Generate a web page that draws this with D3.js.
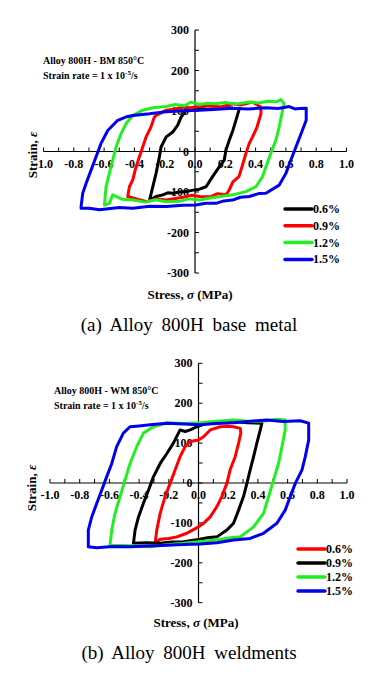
<!DOCTYPE html>
<html><head><meta charset="utf-8">
<script src="https://cdn.jsdelivr.net/npm/d3@7"></script>
<style>
html,body{margin:0;padding:0;background:#fff;}
svg{display:block;}
text{font-family:"Liberation Serif","Times New Roman",serif;}
</style></head>
<body>
<svg id="c" width="385" height="674"></svg>
<script>
// ---------- data ----------
const xTicks = [-1.0,-0.8,-0.6,-0.4,-0.2,0.0,0.2,0.4,0.6,0.8,1.0];
const yTicks = [-300,-200,-100,0,100,200,300];
const legendA = ["0.6%","0.9%","1.2%","1.5%"];
const colorsA = ["#000000","#ff0000","#22ee22","#0000ee"];
const legendB = ["0.6%","0.9%","1.2%","1.5%"];
const colorsB = ["#ff0000","#000000","#22ee22","#0000ee"];

// (a) base metal loops [strain-axis x, stress-axis y]
const bm06 = [[-0.30,-120],[-0.28,-89],[-0.257,-54],[-0.235,-13],[-0.224,11],[-0.19,36],[-0.147,48],[-0.114,65],[-0.092,85],[-0.075,93],[-0.06,102],[-0.02,105],[0.03,108],[0.08,104],[0.14,106],[0.2,109],[0.25,107],[0.29,106],[0.29,102],[0.27,77],[0.25,52],[0.226,28],[0.204,3],[0.193,-21],[0.16,-38],[0.116,-62],[0.073,-87],[0.029,-93],[-0.02,-96],[-0.06,-99],[-0.1,-100],[-0.147,-103],[-0.18,-102],[-0.213,-107],[-0.257,-111],[-0.30,-120]];
const bm09 = [[-0.444,-111],[-0.433,-87],[-0.411,-70],[-0.389,-38],[-0.367,-13],[-0.345,11],[-0.323,36],[-0.29,61],[-0.268,85],[-0.257,89],[-0.19,102],[-0.13,105],[-0.08,110],[-0.03,108],[0.03,111],[0.1,113],[0.17,110],[0.25,118],[0.3,115],[0.38,122],[0.435,110],[0.435,93],[0.41,61],[0.38,36],[0.358,20],[0.336,-5],[0.31,-38],[0.29,-62],[0.25,-75],[0.226,-95],[0.204,-107],[0.15,-104],[0.1,-112],[0.03,-111],[-0.02,-108],[-0.08,-113],[-0.13,-116],[-0.19,-120],[-0.25,-117],[-0.32,-124],[-0.38,-118],[-0.444,-111]];
const bm12 = [[-0.598,-132],[-0.587,-87],[-0.565,-54],[-0.543,-21],[-0.521,11],[-0.488,44],[-0.455,69],[-0.411,89],[-0.345,102],[-0.279,108],[-0.19,111],[-0.13,116],[-0.07,113],[-0.026,122],[0.03,116],[0.08,119],[0.138,118],[0.2,121],[0.27,117],[0.358,122],[0.42,120],[0.48,124],[0.54,123],[0.567,128],[0.589,118],[0.578,102],[0.556,61],[0.534,28],[0.50,-5],[0.468,-38],[0.446,-62],[0.402,-87],[0.336,-99],[0.248,-107],[0.19,-110],[0.138,-113],[0.08,-116],[0.029,-120],[-0.04,-117],[-0.1,-123],[-0.19,-124],[-0.26,-119],[-0.33,-125],[-0.41,-120],[-0.48,-118],[-0.543,-107],[-0.565,-128],[-0.598,-132]];
const bm15 = [[-0.752,-136],[-0.741,-103],[-0.719,-79],[-0.686,-46],[-0.653,-13],[-0.62,20],[-0.576,52],[-0.51,77],[-0.45,86],[-0.411,89],[-0.30,93],[-0.19,98],[-0.1,100],[0.03,102],[0.12,104],[0.248,107],[0.35,105],[0.468,108],[0.55,106],[0.622,111],[0.66,105],[0.688,106],[0.734,107],[0.734,77],[0.70,44],[0.666,11],[0.633,-21],[0.60,-54],[0.556,-83],[0.468,-103],[0.42,-104],[0.358,-111],[0.3,-113],[0.248,-120],[0.19,-122],[0.138,-128],[0.07,-128],[0.007,-132],[-0.08,-133],[-0.19,-136],[-0.3,-135],[-0.41,-140],[-0.5,-138],[-0.63,-144],[-0.7,-140],[-0.752,-140],[-0.752,-136]];

// (b) weldment loops
const wm06 = [[-0.292,-151],[-0.281,-118],[-0.258,-76],[-0.225,-34],[-0.191,-1],[-0.157,33],[-0.124,66],[-0.09,91],[-0.056,104],[0,108],[0.034,116],[0.079,133],[0.146,141],[0.2,142],[0.236,141],[0.281,137],[0.285,125],[0.27,100],[0.247,66],[0.213,33],[0.191,-1],[0.157,-34],[0.124,-59],[0.079,-85],[0.034,-101],[0,-110],[-0.04,-118],[-0.079,-126],[-0.146,-135],[-0.2,-139],[-0.258,-141],[-0.292,-151]];
const wm09 = [[-0.438,-151],[-0.427,-118],[-0.404,-85],[-0.371,-51],[-0.337,-18],[-0.303,16],[-0.258,49],[-0.213,74],[-0.169,100],[-0.124,133],[-0.09,129],[-0.056,133],[-0.011,141],[0.056,150],[0.15,152],[0.236,154],[0.33,151],[0.427,150],[0.416,133],[0.393,100],[0.371,66],[0.348,33],[0.326,-1],[0.303,-34],[0.27,-68],[0.236,-101],[0.191,-118],[0.124,-135],[0.06,-137],[0.011,-141],[-0.1,-147],[-0.18,-148],[-0.26,-151],[-0.35,-150],[-0.438,-151]];
const wm12 = [[-0.596,-156],[-0.584,-118],[-0.562,-76],[-0.528,-34],[-0.494,8],[-0.461,49],[-0.416,91],[-0.371,125],[-0.303,141],[-0.213,151],[-0.1,149],[0.011,151],[0.12,155],[0.236,158],[0.35,154],[0.461,156],[0.52,160],[0.584,158],[0.584,133],[0.562,91],[0.539,49],[0.506,8],[0.472,-34],[0.438,-76],[0.371,-110],[0.281,-135],[0.2,-138],[0.124,-143],[0.03,-146],[-0.1,-151],[-0.2,-154],[-0.326,-160],[-0.45,-157],[-0.596,-156]];
const wm15 = [[-0.742,-160],[-0.742,-118],[-0.719,-85],[-0.685,-51],[-0.652,-18],[-0.618,16],[-0.584,49],[-0.551,91],[-0.506,125],[-0.461,141],[-0.4,143],[-0.326,146],[-0.213,150],[-0.1,148],[0.011,146],[0.12,149],[0.236,151],[0.35,155],[0.461,158],[0.57,154],[0.685,156],[0.742,150],[0.742,108],[0.719,66],[0.697,33],[0.652,-1],[0.618,-34],[0.584,-68],[0.528,-101],[0.438,-126],[0.348,-139],[0.236,-143],[0.124,-150],[0.011,-153],[-0.1,-154],[-0.213,-156],[-0.33,-158],[-0.461,-160],[-0.58,-159],[-0.685,-162],[-0.742,-160]];

const seriesA = [bm06,bm09,bm12,bm15];
const seriesB = [wm06,wm09,wm12,wm15];

// ---------- drawing ----------
const svg = d3.select("#c");

function panel(cfg){
  const x = d3.scaleLinear().domain([-1,1]).range([cfg.x0,cfg.x1]);
  const y = d3.scaleLinear().domain([-300,300]).range([cfg.yb,cfg.yt]);
  const g = svg.append("g");
  const ax = x(0), ay = y(0);
  // x axis
  g.append("line").attr("x1",x(-1)).attr("x2",x(1)).attr("y1",ay).attr("y2",ay).attr("stroke","#000").attr("stroke-width",1.2);
  d3.range(-10,11).forEach(i=>{
    g.append("line").attr("x1",x(i/10)).attr("x2",x(i/10)).attr("y1",ay).attr("y2",ay-4).attr("stroke","#000").attr("stroke-width",1);
  });
  xTicks.forEach(t=>{
    g.append("text").attr("x",x(t)).attr("y",ay+16).attr("text-anchor","middle")
     .attr("font-size",12).attr("font-weight","bold").text(t.toFixed(1));
  });
  // y axis
  g.append("line").attr("x1",ax).attr("x2",ax).attr("y1",y(-300)).attr("y2",y(300)).attr("stroke","#000").attr("stroke-width",1.2);
  d3.range(-300,301,50).forEach(v=>{
    g.append("line").attr("x1",ax).attr("x2",ax+4).attr("y1",y(v)).attr("y2",y(v)).attr("stroke","#000").attr("stroke-width",1);
  });
  yTicks.forEach(t=>{
    g.append("text").attr("x",ax-6).attr("y",y(t)+4).attr("text-anchor","end")
     .attr("font-size",12).attr("font-weight","bold").text(t);
  });
  // lines
  const line = d3.line().x(d=>x(d[0])).y(d=>y(d[1]));
  cfg.series.forEach((s,i)=>{
    g.append("path").attr("d",line(s)).attr("fill","none").attr("stroke",cfg.colors[i])
     .attr("stroke-width",3).attr("stroke-linejoin","round").attr("stroke-linecap","round");
  });
  // annotation
  const a = g.append("text").attr("x",cfg.annX).attr("y",cfg.annY).attr("font-size",10).attr("font-weight","bold");
  a.text(cfg.ann);
  const b = g.append("text").attr("x",cfg.annX).attr("y",cfg.annY+15).attr("font-size",10).attr("font-weight","bold");
  b.append("tspan").text("Strain rate = 1 x 10");
  b.append("tspan").attr("font-size",7).attr("dy",-4).text("-5");
  b.append("tspan").attr("dy",4).text("/s");
  // legend
  cfg.legend.forEach((l,i)=>{
    const ly = cfg.legY + i*cfg.legDy;
    g.append("line").attr("x1",cfg.legX).attr("x2",cfg.legX+27).attr("y1",ly).attr("y2",ly)
     .attr("stroke",cfg.colors[i]).attr("stroke-width",3.5).attr("stroke-linecap","round");
    g.append("text").attr("x",cfg.legX+28).attr("y",ly+4).attr("font-size",12).attr("font-weight","bold").text(l);
  });
  // axis titles
  const xt = g.append("text").attr("x",cfg.xtX).attr("y",cfg.xtY).attr("text-anchor","middle").attr("font-size",13).attr("font-weight","bold");
  xt.append("tspan").text("Stress, ");
  xt.append("tspan").attr("font-style","italic").text("σ");
  xt.append("tspan").text(" (MPa)");
  const yt = g.append("text").attr("transform",`translate(${cfg.ytX},${cfg.ytY}) rotate(-90)`).attr("text-anchor","middle").attr("font-size",13).attr("font-weight","bold");
  yt.append("tspan").text("Strain, ");
  yt.append("tspan").attr("font-style","italic").text("ε");
  // caption
  g.append("text").attr("x",cfg.capX).attr("y",cfg.capY).attr("text-anchor","middle").attr("font-size",19)
   .attr("word-spacing",4).text(cfg.cap);
}

panel({x0:43.5,x1:346.5,yb:273,yt:30,series:seriesA,colors:colorsA,legend:legendA,
  ann:"Alloy 800H - BM 850°C",annX:43,annY:64,legX:285,legY:209,legDy:16.8,
  xtX:190,xtY:299,ytX:37,ytY:155,cap:"(a) Alloy 800H base metal",capX:189,capY:331});
panel({x0:50,x1:347,yb:602.7,yt:363.3,series:seriesB,colors:colorsB,legend:legendB,
  ann:"Alloy 800H - WM 850°C",annX:54,annY:394,legX:298,legY:549,legDy:14,
  xtX:196,xtY:627,ytX:36,ytY:488,cap:"(b) Alloy 800H weldments",capX:189,capY:659});
</script>
</body></html>
